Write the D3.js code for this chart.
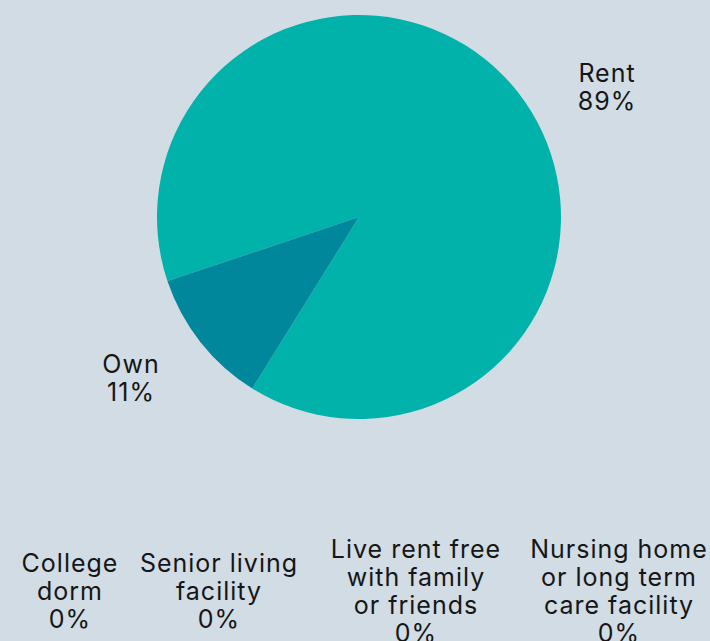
<!DOCTYPE html>
<html>
<head>
<meta charset="utf-8">
<script src="https://cdn.jsdelivr.net/npm/d3@7"></script>
<style>
  html, body { margin: 0; padding: 0; background: #d1dce5; }
  svg { display: block; }
  text { font-family: Inter, "Open Sans", sans-serif; fill: #161616; letter-spacing: 1px; }
</style>
</head>
<body>
<svg id="chart" width="710" height="641"></svg>
<script>
const categories = ["Rent", "Own", "College dorm", "Senior living facility", "Live rent free with family or friends", "Nursing home or long term care facility"];
const values = [89, 11, 0, 0, 0, 0];
const labelLines = [
  ["Rent", "89%"],
  ["Own", "11%"],
  ["College", "dorm", "0%"],
  ["Senior living", "facility", "0%"],
  ["Live rent free", "with family", "or friends", "0%"],
  ["Nursing home", "or long term", "care facility", "0%"]
];
const colors = ["#00b2a9", "#00879b", "#5fa8c8", "#7a9cc6", "#4c6a92", "#2d4f7a"];

const svg = d3.select("#chart");
const cx = 359, cy = 217, r = 202;
const deg = Math.PI / 180;
const startA = -108.5 * deg;

const pie = d3.pie().sort(null).value(d => d.v).startAngle(startA).endAngle(startA + 2 * Math.PI);
const data = categories.map((c, i) => ({ c, v: values[i], i }));
const arcs = pie(data);
const arc = d3.arc().innerRadius(0).outerRadius(r);
const color = d3.scaleOrdinal().domain(categories).range(colors);

const g = svg.append("g").attr("transform", `translate(${cx},${cy})`);
g.selectAll("path").data(arcs.filter(a => a.data.v > 0)).join("path")
  .attr("d", arc)
  .attr("fill", d => color(d.data.c));

// label anchor positions (centre x, first baseline y)
const labelPos = [
  [607, 82],
  [131, 373],
  [70, 572],
  [219, 572],
  [416, 558],
  [619, 558]
];
const lh = 28;
labelLines.forEach((lines, i) => {
  const t = svg.append("text")
    .attr("text-anchor", "middle")
    .attr("font-size", 25)
    .attr("x", labelPos[i][0])
    .attr("y", labelPos[i][1]);
  lines.forEach((ln, k) => {
    t.append("tspan").attr("x", labelPos[i][0]).attr("dy", k === 0 ? 0 : lh).text(ln);
  });
});
</script>
</body>
</html>
